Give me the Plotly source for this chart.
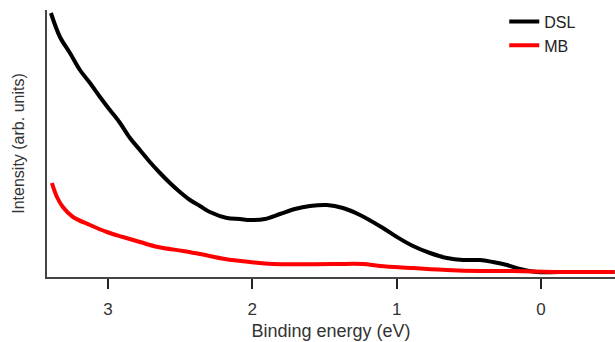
import plotly.graph_objects as go

dsl_energy = [3.396, 3.333, 3.264, 3.195, 3.125, 3.056, 2.987, 2.917, 2.848, 2.779,
              2.710, 2.640, 2.571, 2.502, 2.432, 2.363, 2.294, 2.176, 2.086, 2.017,
              1.913, 1.809, 1.705, 1.601, 1.483, 1.372, 1.254, 1.095, 0.998, 0.887,
              0.769, 0.651, 0.541, 0.423, 0.333, 0.236, 0.146, 0.028, -0.13, -0.51]
dsl_intensity = [259, 235, 219, 202, 189, 175, 162, 149, 134, 122,
                 110, 99, 89, 80, 72, 66, 60, 54, 53, 52,
                 53, 58, 63, 66, 67, 64, 57, 44, 35, 26,
                 19, 14, 12, 12, 10, 7, 3, 0, 0, 0]

mb_energy = [3.389, 3.354, 3.313, 3.243, 3.125, 3.008, 2.897, 2.779, 2.654, 2.481,
             2.363, 2.190, 2.017, 1.857, 1.441, 1.234, 1.116, 0.887, 0.651, 0.423,
             0.194, -0.13, -0.51]
mb_intensity = [89, 75, 65, 55, 47, 40, 35, 30, 25, 21,
                18, 13, 10, 8, 8, 8, 6, 4, 2, 1,
                1, 0, 0]

tick_vals = [3, 2, 1, 0]
tick_text = ["3", "2", "1", "0"]

fig = go.Figure()
fig.add_trace(go.Scatter(x=dsl_energy, y=dsl_intensity, mode="lines", name="DSL",
                         line=dict(color="black", width=4, shape="spline", smoothing=1.0)))
fig.add_trace(go.Scatter(x=mb_energy, y=mb_intensity, mode="lines", name="MB",
                         line=dict(color="#ff0000", width=4, shape="spline", smoothing=1.0)))

fig.update_layout(
    width=615, height=342,
    margin=dict(l=47, r=0, t=10, b=65),
    plot_bgcolor="white", paper_bgcolor="white",
    font=dict(family="Liberation Sans, Arial, sans-serif", size=17, color="#333333"),
    showlegend=True,
    legend=dict(x=0.805, y=1.02, xanchor="left", yanchor="top",
                bgcolor="rgba(0,0,0,0)", font=dict(size=16, color="#222222"),
                tracegroupgap=0, itemwidth=30),
    xaxis=dict(range=[3.423, -0.513], tickvals=tick_vals, ticktext=tick_text,
               ticks="outside", ticklen=10, tickwidth=2, tickcolor="#222222",
               ticklabelstandoff=6,
               tickfont=dict(size=17, color="#333333"),
               showline=True, linecolor="#444444", linewidth=2,
               showgrid=False, zeroline=False,
               title=dict(text="Binding energy (eV)", standoff=6,
                          font=dict(size=18, color="#333333"))),
    yaxis=dict(range=[-5, 262], showticklabels=False, ticks="",
               showline=True, linecolor="#444444", linewidth=2,
               showgrid=False, zeroline=False,
               title=dict(text="Intensity (arb. units)", standoff=16,
                          font=dict(size=16, color="#333333"))),
)

fig.write_html("out.html")
